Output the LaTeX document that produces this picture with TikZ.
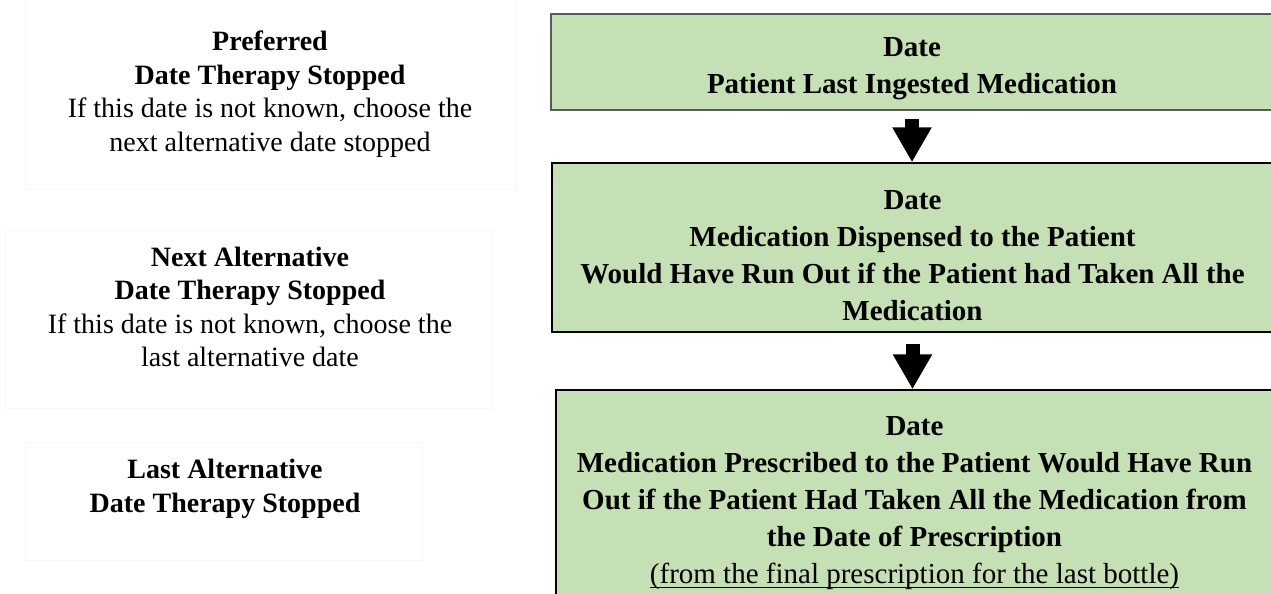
\documentclass[tikz,border=0pt]{standalone}
\usepackage{fontspec}
\setmainfont{Liberation Serif}
\usetikzlibrary{arrows.meta}
\definecolor{boxgreen}{RGB}{197,224,180}
\newsavebox{\ulinebox}
\newcommand{\lowline}[1]{\sbox{\ulinebox}{#1}\rlap{\usebox{\ulinebox}}\rule[-5pt]{\wd\ulinebox}{1.4pt}}

\begin{document}
\begin{tikzpicture}[x=1pt, y=-1pt,
	side/.style = {align=center, inner sep=0pt, font=\fontsize{28}{33.5}\selectfont},
	ghost/.style = {draw=black!3, line width=1pt},
	stepbox/.style = {draw, fill=boxgreen, line width=1.5pt, inner sep=0pt},
	steptext/.style = {align=center, inner sep=0pt, font=\fontsize{29}{37}\selectfont\bfseries},
	bigarrow/.style = {line width=14pt, -{Triangle[width=37pt, length=35pt]}}]
	\useasboundingbox (0,0) rectangle (1271,594);

	\draw [ghost] (25,-5) rectangle (515,189);
	\draw [ghost] (5,230) rectangle (492,408);
	\draw [ghost] (25,442) rectangle (422,560);

	\node [side] (pref) at (270,94) {\textbf{Preferred}\\ \textbf{Date Therapy Stopped}\\
		If this date is not known, choose the\\ next alternative date stopped};
	\node [side] (nextalt) at (250,307) {\textbf{Next Alternative}\\ \textbf{Date Therapy Stopped}\\
		If this date is not known, choose the\\ last alternative date};
	\node [side] (lastalt) at (225,489) {\textbf{Last Alternative}\\ \textbf{Date Therapy Stopped}};

	\node [stepbox, draw=black!65, line width=2.5pt, minimum width=722pt, minimum height=96pt] (ingested) at (912,62) {};
	\node [stepbox, minimum width=721pt, minimum height=169pt] (dispensed) at (912.5,247.5) {};
	\node [stepbox, minimum width=717pt, minimum height=220pt] (prescribed) at (914.5,500) {};

	\node [steptext] (ingestedtext) at ([yshift=-7pt]ingested.center)
		{Date\\ Patient Last Ingested Medication};
	\node [steptext] (dispensedtext) at ([yshift=-8pt]dispensed.center)
		{Date\\ Medication Dispensed to the Patient\\ Would Have Run Out if the Patient had Taken All the\\ Medication};
	\node [steptext] (prescribedtext) at ([yshift=-3pt]prescribed.center)
		{Date\\ Medication Prescribed to the Patient Would Have Run\\ Out if the Patient Had Taken All the Medication from\\
		the Date of Prescription\\ \mdseries\lowline{(from the final prescription for the last bottle)}};

	\draw [bigarrow] ([yshift=-8pt]ingested.south) -- (ingested.south |- dispensed.north);
	\draw [bigarrow] ([yshift=-11pt]dispensed.south) -- (dispensed.south |- prescribed.north);
\end{tikzpicture}
\end{document}
